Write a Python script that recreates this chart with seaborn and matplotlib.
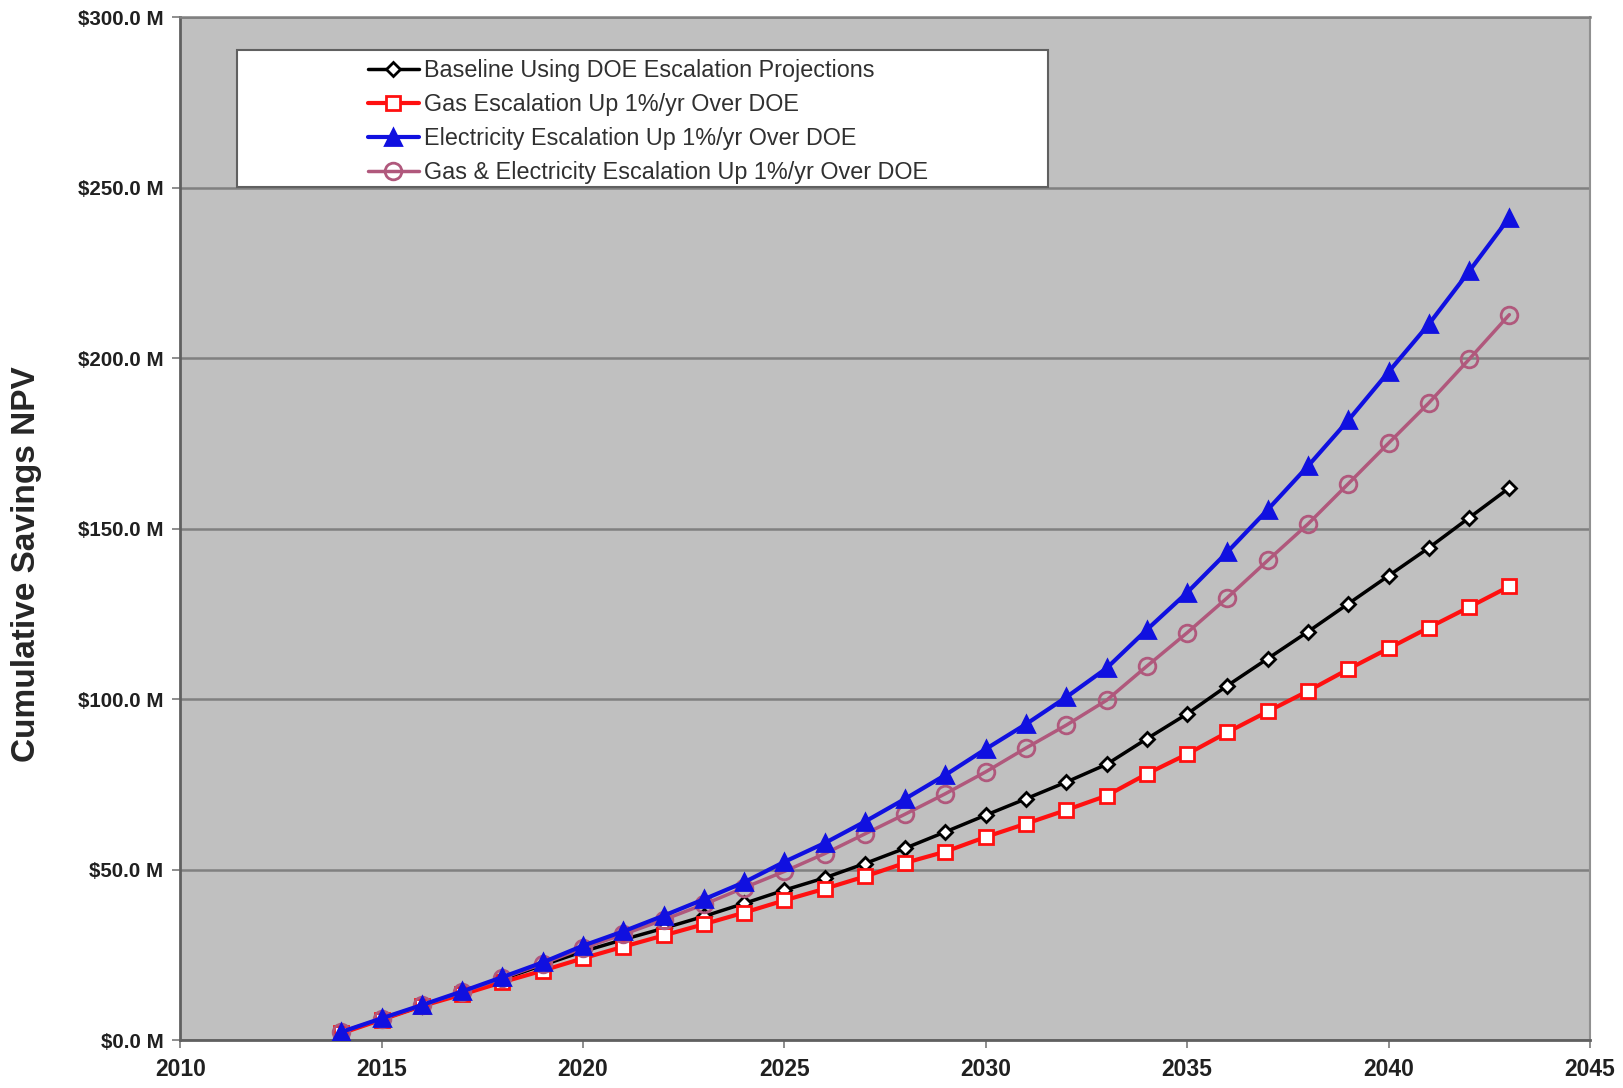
# Libraries
import pandas as pd
import seaborn as sns
import matplotlib.pyplot as plt
from matplotlib.patches import Rectangle
from matplotlib.ticker import FuncFormatter

# -----------------------------------
# Configuration
# -----------------------------------
sns.set_theme(style="ticks")
plt.rcParams['font.family'] = ['Liberation Sans', 'DejaVu Sans']

# -----------------------------------
# Data (cumulative savings NPV, $M)
# -----------------------------------
years = list(range(2014, 2044))

baseline = [2.1, 6.1, 10.0, 14.0, 17.9, 22.0, 26.0, 29.5, 32.8, 36.3,
            40.1, 44.0, 47.6, 51.8, 56.3, 61.1, 66.0, 70.8, 75.7, 80.9,
            88.4, 95.7, 104.0, 111.9, 119.8, 128.0, 136.2, 144.4, 153.2, 162.0]

gas_up = [2.0, 6.0, 10.0, 13.4, 17.0, 20.4, 24.0, 27.4, 30.7, 34.0,
          37.4, 41.0, 44.4, 48.0, 52.0, 55.3, 59.6, 63.5, 67.5, 71.7,
          78.1, 83.9, 90.3, 96.4, 102.4, 108.8, 114.9, 121.0, 127.0, 133.1]

elec_up = [2.4, 6.4, 10.3, 14.3, 18.5, 22.8, 27.7, 31.9, 36.5, 41.3,
           46.3, 52.3, 57.8, 64.1, 70.8, 77.8, 85.4, 92.7, 100.6, 109.1,
           120.4, 131.3, 143.2, 155.6, 168.4, 181.8, 196.0, 210.0, 225.5, 241.3]

both_up = [2.4, 6.3, 10.2, 14.1, 18.2, 22.4, 27.0, 31.0, 35.3, 39.8,
           44.7, 49.5, 54.7, 60.5, 66.3, 72.3, 78.7, 85.7, 92.4, 99.7,
           109.7, 119.5, 129.8, 140.7, 151.4, 163.2, 175.1, 186.9, 199.7, 212.8]

labels = ["Baseline Using DOE Escalation Projections",
          "Gas Escalation Up 1%/yr Over DOE",
          "Electricity Escalation Up 1%/yr Over DOE",
          "Gas & Electricity Escalation Up 1%/yr Over DOE"]

# -----------------------------------
# Plot
# -----------------------------------
fig = plt.figure(figsize=(16.24, 10.88), dpi=100)
ax = fig.add_axes([0.111, 0.044, 0.868, 0.940])
ax.set_facecolor('#c0c0c0')

styles = [
    (baseline, 'black', 'D', 7, 'white', 2.5),
    (gas_up, '#ff1010', 's', 10, 'white', 3),
    (both_up, '#b0587c', 'o', 12, 'none', 2.5),
    (elec_up, '#1010e0', '^', 12, '#1010e0', 3),
]
order = [0, 1, 3, 2]
for (vals, col, mk, ms, mfc, lw), lab in zip(styles, [labels[i] for i in order]):
    sns.lineplot(x=years, y=vals, ax=ax, color=col, marker=mk, markersize=ms,
                 markerfacecolor=mfc, markeredgecolor=col, markeredgewidth=2,
                 linewidth=lw, label=lab, zorder=3)

# Axes format
ax.set_xlim(2010, 2045)
ax.set_ylim(0, 300)
ax.set_xticks(range(2010, 2046, 5))
ax.set_yticks(range(0, 301, 50))
ax.yaxis.set_major_formatter(FuncFormatter(lambda v, p: "$%.1f M" % v))
ax.grid(axis='y', color='#808080', linewidth=1.8, zorder=1)
ax.set_axisbelow(True)
for s in ['left', 'bottom']:
    ax.spines[s].set_color('#606060')
    ax.spines[s].set_linewidth(2)
ax.spines['right'].set_color('#909090')
ax.spines['right'].set_linewidth(1.5)
ax.spines['top'].set_color('#808080')
ax.spines['top'].set_linewidth(1.8)
ax.tick_params(axis='both', direction='out', length=6, color='#808080',
               labelcolor='#202020')
ax.tick_params(axis='x', labelsize=16.5, pad=7)
ax.tick_params(axis='y', labelsize=14.8, pad=6)
for t in ax.get_xticklabels() + ax.get_yticklabels():
    t.set_fontweight('bold')
ax.set_xlabel('')
ax.set_ylabel('Cumulative Savings NPV', fontsize=24, fontweight='bold')
ax.yaxis.set_label_coords(-0.098, 0.465)

# Legend box + legend
ax.add_patch(Rectangle((0.0403, 0.8343), 0.5752, 0.134, transform=ax.transAxes,
                       facecolor='white', edgecolor='#606060', linewidth=1.5, zorder=4))
handles, labs = ax.get_legend_handles_labels()
idx = [labs.index(l) for l in labels]
leg = ax.legend([handles[i] for i in idx], [labs[i] for i in idx],
                loc='upper left', bbox_to_anchor=(0.133, 0.959), frameon=False,
                borderpad=0, borderaxespad=0, fontsize=16.8, handlelength=2.2,
                handletextpad=0.2, labelspacing=0.47, labelcolor='#303030')
leg.set_zorder(5)

fig.savefig('out.png', dpi=100, facecolor='white')
